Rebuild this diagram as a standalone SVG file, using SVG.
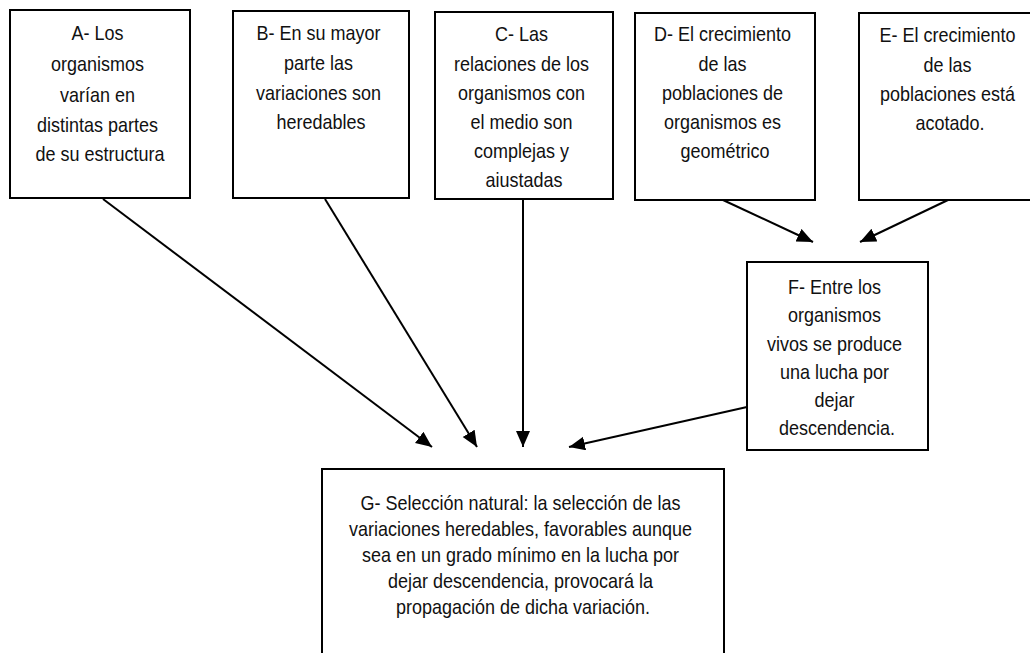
<svg xmlns="http://www.w3.org/2000/svg" width="1030" height="653" viewBox="0 0 1030 653">
  <style>
    .box { fill: #ffffff; stroke: #000000; stroke-width: 2; }
    .label { font-family: "Liberation Sans", Arial, sans-serif; font-size: 21px; fill: #111111; text-anchor: middle; }
    .edge { stroke: #000000; stroke-width: 2; fill: none; marker-end: url(#arrow); }
  </style>
  <defs>
    <marker id="arrow" markerUnits="userSpaceOnUse" markerWidth="17" markerHeight="15" refX="16" refY="7" orient="auto">
      <path d="M0,0 L16,7 L0,14 z" fill="#000000"/>
    </marker>
  </defs>
  <rect width="1030" height="653" fill="#ffffff"/>

  <!-- labels use a narrowed sans: centred at x=0, then shifted and squeezed horizontally -->
  <g id="node-a">
    <rect class="box" x="10" y="10" width="180" height="188"/>
    <text class="label" transform="translate(100,0) scale(0.857,1)">
      <tspan x="0" y="40">A- Los</tspan>
      <tspan x="0" y="71">organismos</tspan>
      <tspan x="0" y="102">varían en</tspan>
      <tspan x="0" y="132">distintas partes</tspan>
      <tspan x="0" y="161">de su estructura</tspan>
    </text>
  </g>

  <g id="node-b">
    <rect class="box" x="233" y="11" width="176" height="187"/>
    <text class="label" transform="translate(321,0) scale(0.857,1)">
      <tspan x="0" y="40">B- En su mayor</tspan>
      <tspan x="0" y="70">parte las</tspan>
      <tspan x="0" y="100">variaciones son</tspan>
      <tspan x="0" y="129">heredables</tspan>
    </text>
  </g>

  <g id="node-c">
    <rect class="box" x="435" y="12" width="178" height="187"/>
    <text class="label" transform="translate(524,0) scale(0.857,1)">
      <tspan x="0" y="41">C- Las</tspan>
      <tspan x="0" y="71">relaciones de los</tspan>
      <tspan x="0" y="100">organismos con</tspan>
      <tspan x="0" y="129">el medio son</tspan>
      <tspan x="0" y="158">complejas y</tspan>
      <tspan x="0" y="187">aiustadas</tspan>
    </text>
  </g>

  <g id="node-d">
    <rect class="box" x="635" y="13" width="180" height="187"/>
    <text class="label" transform="translate(725,0) scale(0.857,1)">
      <tspan x="0" y="41">D- El crecimiento</tspan>
      <tspan x="0" y="71">de las</tspan>
      <tspan x="0" y="100">poblaciones de</tspan>
      <tspan x="0" y="129">organismos es</tspan>
      <tspan x="0" y="158">geométrico</tspan>
    </text>
  </g>

  <g id="node-e">
    <rect class="box" x="859" y="13" width="186" height="187"/>
    <text class="label" transform="translate(950,0) scale(0.857,1)">
      <tspan x="0" y="42">E- El crecimiento</tspan>
      <tspan x="0" y="72">de las</tspan>
      <tspan x="0" y="101">poblaciones está</tspan>
      <tspan x="0" y="130">acotado.</tspan>
    </text>
  </g>

  <g id="node-f">
    <rect class="box" x="747" y="262" width="181" height="188"/>
    <text class="label" transform="translate(837,0) scale(0.857,1)">
      <tspan x="0" y="294">F- Entre los</tspan>
      <tspan x="0" y="322">organismos</tspan>
      <tspan x="0" y="351">vivos se produce</tspan>
      <tspan x="0" y="379">una lucha por</tspan>
      <tspan x="0" y="407">dejar</tspan>
      <tspan x="0" y="435">descendencia.</tspan>
    </text>
  </g>

  <g id="node-g">
    <rect class="box" x="322" y="469" width="402" height="200"/>
    <text class="label" transform="translate(523,0) scale(0.857,1)">
      <tspan x="0" y="510">G- Selección natural: la selección de las</tspan>
      <tspan x="0" y="536">variaciones heredables, favorables aunque</tspan>
      <tspan x="0" y="562">sea en un grado mínimo en la lucha por</tspan>
      <tspan x="0" y="588">dejar descendencia, provocará la</tspan>
      <tspan x="0" y="614">propagación de dicha variación.</tspan>
    </text>
  </g>

  <g id="connectors">
    <line class="edge" x1="103" y1="199" x2="432" y2="447"/>
    <line class="edge" x1="325" y1="199" x2="477" y2="447"/>
    <line class="edge" x1="523" y1="199" x2="523" y2="447"/>
    <line class="edge" x1="747" y1="407" x2="569" y2="447"/>
    <line class="edge" x1="723" y1="200" x2="813" y2="242"/>
    <line class="edge" x1="948" y1="200" x2="860" y2="242"/>
  </g>
</svg>
